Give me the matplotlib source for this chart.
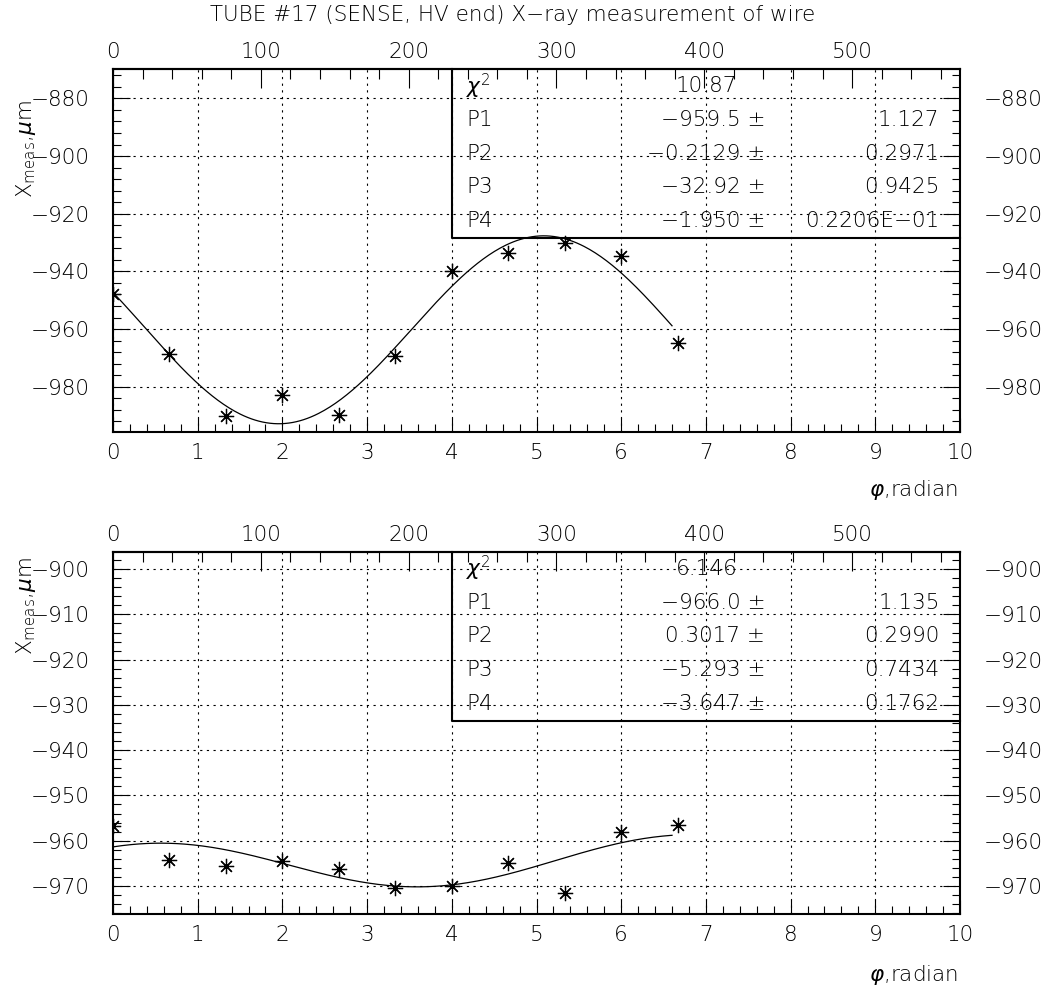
import numpy as np
import matplotlib
matplotlib.use("Agg")
import matplotlib.pyplot as plt
from matplotlib.ticker import MultipleLocator

plt.rcParams['font.family'] = ['DejaVu Sans']
plt.rcParams['font.weight'] = 'light'
plt.rcParams['mathtext.fontset'] = 'custom'
plt.rcParams['mathtext.rm'] = 'DejaVu Sans:light'
plt.rcParams['mathtext.it'] = 'DejaVu Sans:italic:light'
plt.rcParams['mathtext.bf'] = 'DejaVu Sans:bold'
plt.rcParams['axes.unicode_minus'] = True

# measured points (phi in radian, X_meas in um)
phi = [0.0, 0.667, 1.333, 2.0, 2.667, 3.333, 4.0, 4.667, 5.333, 6.0, 6.667]
x_top = [-948.0, -968.6, -990.3, -982.9, -989.9, -969.4, -940.0, -933.7, -930.0, -934.5, -965.0]
x_bot = [-956.7, -964.2, -965.7, -964.4, -966.3, -970.4, -970.0, -964.9, -971.5, -958.0, -956.6]

# fit results printed in the stat boxes
par_names = ['P1', 'P2', 'P3', 'P4']
p_top = [-959.5, -0.2129, -32.92, -1.950]
e_top = ['1.127', '0.2971', '0.9425', '0.2206E\u221201']
chi2_top = '10.87'
p_bot = [-966.0, 0.3017, -5.293, -3.647]
e_bot = ['1.135', '0.2990', '0.7434', '0.1762']
chi2_bot = '6.146'
fit_end = 6.6

W, H = 1062, 992
FS = 15.5


def fmt(v):
    if abs(v) >= 100:
        s = '%.1f' % v
    elif abs(v) < 1:
        s = '%.4f' % v
    elif abs(v) < 10:
        s = '%.3f' % v
    else:
        s = '%.2f' % v
    return s.replace('-', '\u2212')


def panel(ax, y, pars, errs, chi2, ylim, ymaj, ymin):
    ax.set_xlim(0, 10)
    ax.set_ylim(*ylim)
    ax.xaxis.set_major_locator(MultipleLocator(1))
    ax.xaxis.set_minor_locator(MultipleLocator(0.2))
    ax.yaxis.set_major_locator(MultipleLocator(ymaj))
    ax.yaxis.set_minor_locator(MultipleLocator(ymin))
    ax.tick_params(which='both', direction='in', left=True, right=True,
                   top=False, labelright=True, labelsize=FS, width=0.8)
    ax.tick_params(axis='y', which='major', length=12, pad=17)
    ax.tick_params(axis='y', which='minor', length=6)
    ax.tick_params(axis='x', which='major', length=10, pad=8)
    ax.tick_params(axis='x', which='minor', length=6)
    for s in ax.spines.values():
        s.set_linewidth(1.5)
    ax.grid(True, which='major', color='black', linestyle=(0, (2, 4)), linewidth=0.8)

    sec = ax.secondary_xaxis('top', functions=(np.degrees, np.radians))
    sec.xaxis.set_major_locator(MultipleLocator(100))
    sec.xaxis.set_minor_locator(MultipleLocator(20))
    sec.tick_params(which='both', direction='in', labelsize=FS, width=0.8, pad=5)
    sec.tick_params(which='major', length=14)
    sec.tick_params(which='minor', length=7)
    sec.spines['top'].set_linewidth(1.5)

    ax.plot(phi, y, linestyle='none', marker=(8, 2, 0), markersize=11,
            markeredgewidth=0.9, color='black')
    xf = np.linspace(0, fit_end, 300)
    yf = pars[0] + pars[1] * xf + pars[2] * np.cos(xf + pars[3])
    ax.plot(xf, yf, color='black', linewidth=0.9)

    # stat box
    tr = ax.get_xaxis_transform()
    ybox = 1 - 169 / 363.0
    ax.plot([4, 4, 10], [1, ybox, ybox], color='black', linewidth=1.5,
            transform=tr, clip_on=False)
    row_h = (1 - ybox) / 5
    rows = [(r'$\chi^2$', chi2, None)]
    for n, p, e in zip(par_names, pars, errs):
        rows.append((n, fmt(p) + ' \u00b1', e))
    for i, (lab, val, err) in enumerate(rows):
        yy = 1 - row_h * (i + 0.5)
        ax.text(4.17, yy, lab, transform=tr, fontsize=FS, va='center', ha='left')
        if err is None:
            ax.text(7.37, yy, val, transform=tr, fontsize=FS, va='center', ha='right')
        else:
            ax.text(7.70, yy, val, transform=tr, fontsize=FS, va='center', ha='right')
            ax.text(9.76, yy, err, transform=tr, fontsize=FS, va='center', ha='right')


fig = plt.figure(figsize=(W / 100, H / 100), dpi=100)
ax1 = fig.add_axes([113 / W, 1 - 432 / H, 847 / W, 363 / H])
ax2 = fig.add_axes([113 / W, 1 - 914 / H, 847 / W, 362 / H])

panel(ax1, x_top, p_top, e_top, chi2_top, (-995.7, -869.8), 20, 4)
panel(ax2, x_bot, p_bot, e_bot, chi2_bot, (-976.2, -896.2), 10, 2)

fig.text(513 / W, 1 - 15 / H, 'TUBE #17 (SENSE, HV end) X\u2212ray measurement of wire',
         fontsize=FS, ha='center', va='center')
ylab = r'X$_{\rm meas}$,$\mu$m'
fig.text(26 / W, 1 - 100 / H, ylab, rotation=90, fontsize=FS, ha='center', va='top')
fig.text(26 / W, 1 - 557 / H, ylab, rotation=90, fontsize=FS, ha='center', va='top')
fig.text(958 / W, 1 - 490 / H, r'$\varphi$,radian', fontsize=FS, ha='right', va='center')
fig.text(958 / W, 1 - 975 / H, r'$\varphi$,radian', fontsize=FS, ha='right', va='center')

fig.savefig('out.png', dpi=100)
